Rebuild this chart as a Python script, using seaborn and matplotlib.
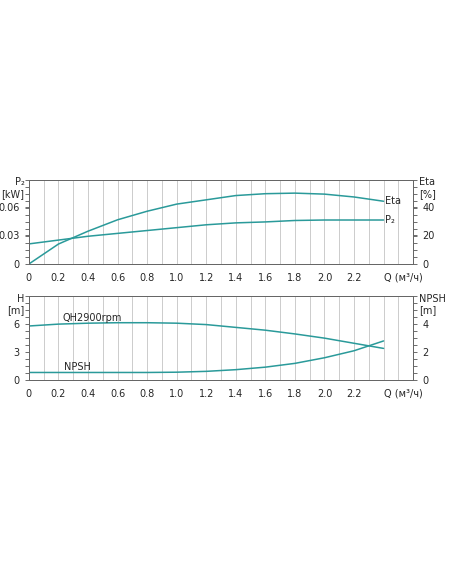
import numpy as np
import pandas as pd
import seaborn as sns
import matplotlib.pyplot as plt

sns.set_style("white")
plt.rcParams['font.family'] = ['DejaVu Sans']

LINE = "#2a9a9a"
GRID = "#c4c4c4"

q = [0, 0.2, 0.4, 0.6, 0.8, 1.0, 1.2, 1.4, 1.6, 1.8, 2.0, 2.2, 2.4]
eta = [0, 14, 23, 31, 37, 42, 45, 48, 49.3, 49.7, 49, 47, 44]
p2 = [0.021, 0.025, 0.029, 0.032, 0.035, 0.038, 0.041, 0.043, 0.044, 0.0455, 0.046, 0.046, 0.046]
head = [5.8, 6.0, 6.1, 6.15, 6.15, 6.1, 5.95, 5.65, 5.35, 4.95, 4.5, 3.95, 3.4]
npsh = [0.55, 0.55, 0.55, 0.55, 0.55, 0.57, 0.63, 0.75, 0.93, 1.2, 1.6, 2.1, 2.8]
xticks = [0, 0.2, 0.4, 0.6, 0.8, 1.0, 1.2, 1.4, 1.6, 1.8, 2.0, 2.2]

df = pd.DataFrame({"Q": q, "Eta": eta, "P2": p2, "H": head, "NPSH": npsh})

fig = plt.figure(figsize=(4.52, 5.84), dpi=100)
ax1 = fig.add_axes([0.064, 0.548, 0.85, 0.144])
ax2 = fig.add_axes([0.064, 0.349, 0.85, 0.144])


def style(ax, twin, ylim, yt, ylab, tlim, tt, tlab):
    ax.set_xlim(0, 2.6)
    ax.set_ylim(*ylim)
    twin.set_ylim(*tlim)
    ax.set_xticks(np.arange(0, 2.61, 0.1), minor=True)
    ax.set_xticks(xticks)
    ax.set_xticklabels([f"{v:g}" if v not in (1, 2) else f"{v:.1f}" for v in xticks], fontsize=7)
    ax.grid(True, which="both", axis="x", color=GRID, lw=0.6)
    ax.set_yticks(yt)
    ax.set_yticklabels([f"{v:g}" for v in yt], fontsize=7)
    twin.set_yticks(tt)
    twin.set_yticklabels([f"{v:g}" for v in tt], fontsize=7)
    ax.set_yticks(np.linspace(ylim[0], ylim[1], 13), minor=True)
    twin.set_yticks(np.linspace(tlim[0], tlim[1], 13), minor=True)
    for a in (ax, twin):
        a.tick_params(which="both", direction="out", length=3, width=0.6, color="#555")
        for s in a.spines.values():
            s.set_color("#666")
            s.set_linewidth(0.7)
    ax.set_ylabel("")
    ax.set_xlabel("")
    twin.set_ylabel("")
    ax.text(-0.03, ylim[1] * 1.03, ylab, fontsize=7, ha="right", va="top", linespacing=1.2)
    ax.text(2.64, ylim[1] * 1.03, tlab, fontsize=7, ha="left", va="top", linespacing=1.2)
    ax.text(2.4, ylim[0] - (ylim[1] - ylim[0]) * 0.1, "Q (м³/ч)", fontsize=7, ha="left", va="top")


t1 = ax1.twinx()
sns.lineplot(data=df, x="Q", y="P2", ax=ax1, color=LINE, lw=1.1)
sns.lineplot(data=df, x="Q", y="Eta", ax=t1, color=LINE, lw=1.1)
style(ax1, t1, (0, 0.088), [0, 0.03, 0.06], "P₂\n[kW]", (0, 59), [0, 20, 40], "Eta\n[%]")
ax1.text(2.41, p2[-1], "P₂", fontsize=7, va="center")
t1.text(2.41, eta[-1], "Eta", fontsize=7, va="center")

t2 = ax2.twinx()
sns.lineplot(data=df, x="Q", y="H", ax=ax2, color=LINE, lw=1.1)
sns.lineplot(data=df, x="Q", y="NPSH", ax=t2, color=LINE, lw=1.1)
style(ax2, t2, (0, 9), [0, 3, 6], "H\n[m]", (0, 6), [0, 2, 4], "NPSH\n[m]")
ax2.text(0.23, 6.3, "QH2900rpm", fontsize=7)
t2.text(0.24, 0.75, "NPSH", fontsize=7)
for t in (t1, t2):
    t.set_xlim(0, 2.6)

fig.savefig("out.png", dpi=100)
